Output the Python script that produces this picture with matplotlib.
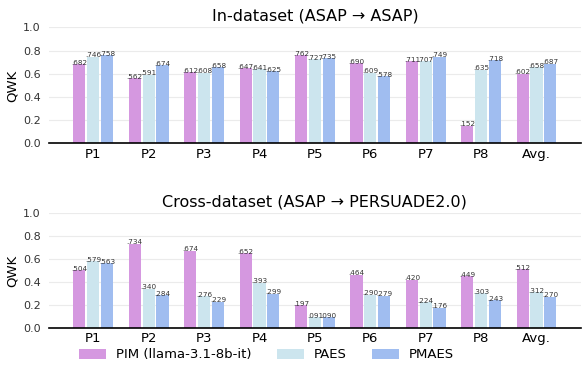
import matplotlib
matplotlib.use("Agg")
import matplotlib.pyplot as plt
import numpy as np
from matplotlib.patches import Patch

categories = ["P1", "P2", "P3", "P4", "P5", "P6", "P7", "P8", "Avg."]
series_names = ["PIM (llama-3.1-8b-it)", "PAES", "PMAES"]

in_pim = [0.682, 0.562, 0.612, 0.647, 0.762, 0.690, 0.711, 0.152, 0.602]
in_paes = [0.746, 0.591, 0.608, 0.641, 0.727, 0.609, 0.707, 0.635, 0.658]
in_pmaes = [0.758, 0.674, 0.658, 0.625, 0.735, 0.578, 0.749, 0.718, 0.687]

cross_pim = [0.504, 0.734, 0.674, 0.652, 0.197, 0.464, 0.420, 0.449, 0.512]
cross_paes = [0.579, 0.340, 0.276, 0.393, 0.091, 0.290, 0.224, 0.303, 0.312]
cross_pmaes = [0.563, 0.284, 0.229, 0.299, 0.090, 0.279, 0.176, 0.243, 0.270]

colors = ["#D598E0", "#CCE5EE", "#A0BDF0"]

fig = plt.figure(figsize=(5.82, 3.65), dpi=100)
ax1 = fig.add_axes([0.084, 0.607, 0.914, 0.318])
ax2 = fig.add_axes([0.084, 0.102, 0.914, 0.314])


def draw(ax, data, title):
    x = np.arange(len(categories))
    offsets = [-0.25, 0.0, 0.25]
    for vals, off, c in zip(data, offsets, colors):
        bars = ax.bar(x + off, vals, width=0.22, color=c, zorder=2)
        for b, v in zip(bars, vals):
            ax.text(b.get_x() + b.get_width() / 2, v + 0.012,
                    ("%.3f" % v)[1:], ha="center", va="center",
                    fontsize=5.2, color="#333333", zorder=3)
    ax.set_xlim(-0.8, 8.8)
    ax.set_ylim(0, 1.0)
    ax.set_yticks([0.0, 0.2, 0.4, 0.6, 0.8, 1.0])
    ax.set_yticklabels(["0.0", "0.2", "0.4", "0.6", "0.8", "1.0"])
    ax.set_xticks(x)
    ax.set_xticklabels(categories, fontsize=9.5)
    ax.tick_params(axis="y", labelsize=8, length=0, pad=6, colors="#333333")
    ax.tick_params(axis="x", length=0, pad=3)
    ax.set_ylabel("QWK", fontsize=9.5, labelpad=3)
    ax.grid(axis="y", color="#EBEBEB", linewidth=0.8, zorder=0)
    ax.set_axisbelow(True)
    for s in ["left", "right", "top"]:
        ax.spines[s].set_visible(False)
    ax.spines["bottom"].set_color("black")
    ax.spines["bottom"].set_linewidth(1.2)
    ax.set_title(title, fontsize=11.5, pad=5)


draw(ax1, [in_pim, in_paes, in_pmaes], "In-dataset (ASAP \u2192 ASAP)")
draw(ax2, [cross_pim, cross_paes, cross_pmaes], "Cross-dataset (ASAP \u2192 PERSUADE2.0)")

handles = [Patch(facecolor=c, edgecolor="none") for c in colors]
fig.legend(handles, series_names, loc="center", bbox_to_anchor=(0.458, 0.028),
           ncol=3, frameon=False, fontsize=9.5, handlelength=2.05,
           handleheight=0.8, columnspacing=1.9, handletextpad=0.75)

fig.savefig("out.png", dpi=100)
